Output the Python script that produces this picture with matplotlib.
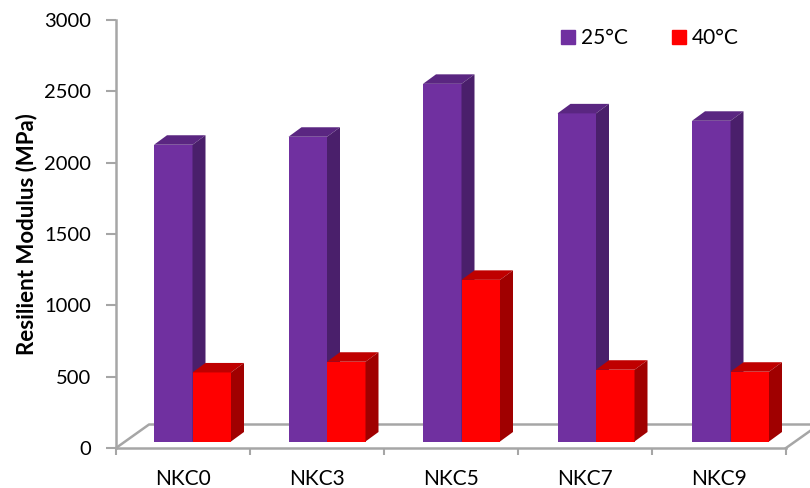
import matplotlib
matplotlib.use("Agg")
import matplotlib.pyplot as plt
from matplotlib.patches import Patch

plt.rcParams['font.family'] = ['Lato', 'DejaVu Sans']

categories = ["NKC0", "NKC3", "NKC5", "NKC7", "NKC9"]
series_names = ["25°C", "40°C"]
modulus_25 = [2080, 2136, 2507, 2300, 2248]
modulus_40 = [484, 559, 1133, 503, 489]
y_ticks = [0, 500, 1000, 1500, 2000, 2500, 3000]

W, H = 810, 488
GREY = "#a6a6a6"
PURPLE = ("#7030a0", "#5a2681", "#4a1f6b")
RED = ("#ff0000", "#bf0000", "#a00000")

fig = plt.figure(figsize=(W / 100, H / 100), dpi=100)
# axes box in reference pixels: x 116-786, y 20-448
ax = fig.add_axes([116 / W, 1 - 448 / H, 670 / W, 428 / H])
ax.set_xlim(0, 5)
ax.set_ylim(0, 3000)

# pixel sizes turned into data units
px_x = 5 / 670
px_y = 3000 / 428

bar_w = 38.5 * px_x
bar_shift = 9.5 * px_x
bar_step = 134.5 / 134
base = 6.5 * px_y
dx = 13 * px_x
dy = 9.5 * px_y


def bars_3d(values, left_offset, colors, z):
    for i, v in enumerate(values):
        x0 = i * bar_step + 0.5 + left_offset
        x1 = x0 + bar_w
        top = base + v
        ax.bar(x0, v, width=bar_w, bottom=base, align="edge", color=colors[0], zorder=z, clip_on=False)
        ax.fill([x0, x1, x1 + dx, x0 + dx], [top, top, top + dy, top + dy],
                color=colors[1], lw=0, zorder=z, clip_on=False)
        ax.fill([x1, x1 + dx, x1 + dx, x1], [base, base + dy, top + dy, top],
                color=colors[2], lw=0, zorder=z, clip_on=False)


# floor of the 3D chart, drawn in axes pixels
floor_x = [0, 33 * px_x, 5 + 24 * px_x]
floor_y = [0, 23.5 * px_y, 23.5 * px_y]
ax.plot(floor_x, floor_y, color=GREY, lw=1.8, zorder=1, clip_on=False)
ax.plot([5, 5 + 24 * px_x], [0, 17 * px_y], color=GREY, lw=1.8, zorder=1, clip_on=False)

bars_3d(modulus_25, bar_shift - bar_w, PURPLE, 2)
bars_3d(modulus_40, bar_shift, RED, 3)

for s in ["top", "right"]:
    ax.spines[s].set_visible(False)
for s in ["left", "bottom"]:
    ax.spines[s].set_color(GREY)
    ax.spines[s].set_linewidth(1.8)

ax.set_yticks(y_ticks)
ax.set_xticks(range(6))
ax.set_xticklabels([])
ax.set_xticks([i + 0.5 for i in range(5)], minor=True)
ax.set_xticklabels(categories, minor=True, fontsize=15, color="black")
ax.tick_params(axis="x", which="major", length=5, width=1.5, color=GREY)
ax.tick_params(axis="x", which="minor", length=0, pad=15)
ax.tick_params(axis="y", length=7, width=1.5, color=GREY, labelsize=14.5, pad=11)
ax.set_ylabel("Resilient Modulus (MPa)", fontsize=16, fontweight="bold", labelpad=5)

handles = [Patch(color=PURPLE[0]), Patch(color=RED[0])]
ax.legend(handles, series_names, ncol=2, frameon=False, fontsize=15,
          loc="center left", bbox_to_anchor=(445 / 670, 1 - 18 / 428),
          handlelength=0.67, handleheight=0.67, handletextpad=0.3, columnspacing=2.1,
          borderpad=0, borderaxespad=0)

fig.savefig("out.png", dpi=100)
